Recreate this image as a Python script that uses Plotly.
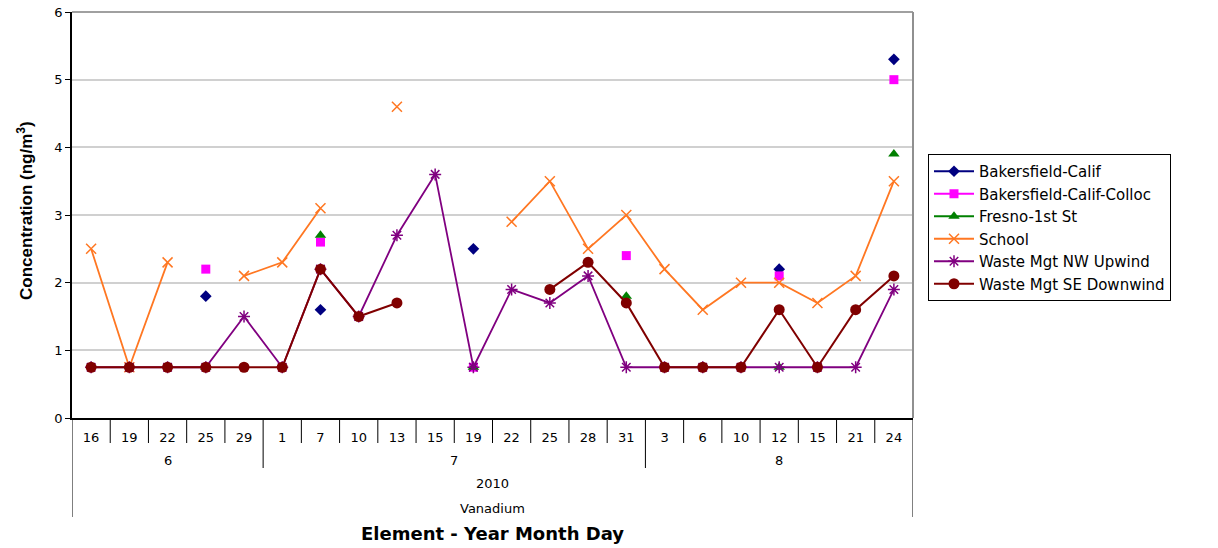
import plotly.graph_objects as go

# ---- data ----
element = "Vanadium"
year = "2010"
months = ["6"] * 5 + ["7"] * 10 + ["8"] * 7
days = ["16", "19", "22", "25", "29",
        "1", "7", "10", "13", "15", "19", "22", "25", "28", "31",
        "3", "6", "10", "12", "15", "21", "24"]

N = None
bakersfield = [N, N, N, 1.8, N, N, 1.6, N, N, N, 2.5, N, N, N, N, N, N, N, 2.2, N, N, 5.3]
bakersfield_colloc = [N, N, N, 2.2, N, N, 2.6, N, N, N, 0.75, N, N, N, 2.4, N, N, N, 2.1, N, N, 5.0]
fresno = [N, N, N, 0.75, N, N, 2.7, N, N, N, 0.75, N, N, N, 1.8, N, N, N, 0.75, N, N, 3.9]
school = [2.5, 0.75, 2.3, N, 2.1, 2.3, 3.1, N, 4.6, N, N, 2.9, 3.5, 2.5, 3.0, 2.2, 1.6, 2.0, 2.0, 1.7, 2.1, 3.5]
waste_nw = [0.75, 0.75, 0.75, 0.75, 1.5, 0.75, 2.2, 1.5, 2.7, 3.6, 0.75, 1.9, 1.7, 2.1, 0.75,
            0.75, 0.75, 0.75, 0.75, 0.75, 0.75, 1.9]
waste_se = [0.75, 0.75, 0.75, 0.75, 0.75, 0.75, 2.2, 1.5, 1.7, N, N, N, 1.9, 2.3, 1.7,
            0.75, 0.75, 0.75, 1.6, 0.75, 1.6, 2.1]

series = [
    ("Bakersfield-Calif", bakersfield, "#000080", "diamond", 9),
    ("Bakersfield-Calif-Colloc", bakersfield_colloc, "#FF00FF", "square", 9),
    ("Fresno-1st St", fresno, "#008000", "triangle-up", 10),
    ("School", school, "#FF7722", "x-thin-open", 10),
    ("Waste Mgt NW Upwind", waste_nw, "#800080", "asterisk-open", 10),
    ("Waste Mgt SE Downwind", waste_se, "#800000", "circle", 11),
]

xs = list(range(len(days)))
fig = go.Figure()
for name, vals, col, sym, sz in series:
    open_sym = sym.endswith("open")
    fig.add_trace(go.Scatter(
        x=xs, y=vals, name=name, mode="lines+markers",
        connectgaps=False,
        line=dict(color=col, width=1.8 if name != "Waste Mgt SE Downwind" else 2),
        marker=dict(symbol=sym, size=sz, color=col,
                    line=dict(color=col, width=1.5 if open_sym else 0)),
    ))

FONT = "DejaVu Sans"
plot_h = 406.0
plot_w = 841.0
# page body has an 8px margin; figure is shrunk by it so the plot sits where the reference has it
OFF = 8
L, T, B, R = 72 - OFF, 12 - OFF, 130, 305
W = 1218 - OFF
H = 548 - OFF

shapes = []
for i in range(len(days) + 1):
    b = i - 0.5
    if i == 0 or i == len(days):
        depth = 99
    elif months[i] != months[i - 1]:
        depth = 50
    else:
        depth = 25
    shapes.append(dict(type="line", xref="x", yref="paper", x0=b, x1=b,
                       y0=0, y1=-depth / plot_h, line=dict(color="black", width=1)))
shapes.append(dict(type="line", xref="paper", yref="paper", x0=0, x1=1, y0=1, y1=1,
                   line=dict(color="#A0A0A0", width=2)))
shapes.append(dict(type="line", xref="paper", yref="paper", x0=1, x1=1, y0=0, y1=1,
                   line=dict(color="#909090", width=2)))

annotations = []
seen = []
for m in months:
    if m not in seen:
        seen.append(m)
for m in seen:
    idx = [i for i, mm in enumerate(months) if mm == m]
    annotations.append(dict(x=(idx[0] + idx[-1]) / 2, y=-42 / plot_h, xref="x", yref="paper",
                            text=m, showarrow=False, font=dict(family=FONT, size=13, color="black"),
                            yanchor="middle"))
center = (len(days) - 1) / 2
annotations.append(dict(x=center, y=-65 / plot_h, xref="x", yref="paper", text=year,
                        showarrow=False, font=dict(family=FONT, size=13, color="black"),
                        yanchor="middle"))
annotations.append(dict(x=center, y=-90 / plot_h, xref="x", yref="paper", text=element,
                        showarrow=False, font=dict(family=FONT, size=13, color="black"),
                        yanchor="middle"))
annotations.append(dict(x=center, y=-115 / plot_h, xref="x", yref="paper",
                        text="<b>Element - Year Month Day</b>",
                        showarrow=False, font=dict(family=FONT, size=18, color="black"),
                        yanchor="middle"))
annotations.append(dict(x=-47 / plot_w, y=0.51, xref="paper", yref="paper",
                        text="<b>Concentration (ng/m<sup>3</sup>)</b>", textangle=-90,
                        showarrow=False, font=dict(family="Liberation Sans, Arial", size=17, color="black"),
                        xanchor="center", yanchor="middle"))

fig.update_layout(
    width=W, height=H,
    margin=dict(l=L, r=R, t=T, b=B, pad=0, autoexpand=False),
    paper_bgcolor="white", plot_bgcolor="white",
    font=dict(family=FONT, size=13, color="black"),
    showlegend=True,
    legend=dict(x=(928 - 72) / plot_w, y=(418 - 154) / plot_h, xanchor="left", yanchor="top",
                bordercolor="black", borderwidth=1, bgcolor="white",
                font=dict(family=FONT, size=15, color="black"),
                itemwidth=40, tracegroupgap=0),
    xaxis=dict(range=[-0.5, len(days) - 0.5], tickmode="array", tickvals=xs, ticktext=days,
               showgrid=False, zeroline=False, showline=True, linecolor="black", linewidth=1.5,
               ticks="outside", ticklen=7, tickcolor="rgba(0,0,0,0)", automargin=False,
               ticklabeloverflow="allow",
               tickfont=dict(family=FONT, size=13, color="black")),
    yaxis=dict(range=[0, 6], dtick=1, tick0=0, showgrid=True, gridcolor="#D0D0D0", gridwidth=1.5,
               zeroline=False, showline=True, linecolor="black", linewidth=1.5,
               ticks="outside", ticklen=5, tickcolor="black", automargin=False,
               ticklabeloverflow="allow",
               tickfont=dict(family=FONT, size=13, color="black")),
    shapes=shapes, annotations=annotations,
)

fig.write_html("out.html")
